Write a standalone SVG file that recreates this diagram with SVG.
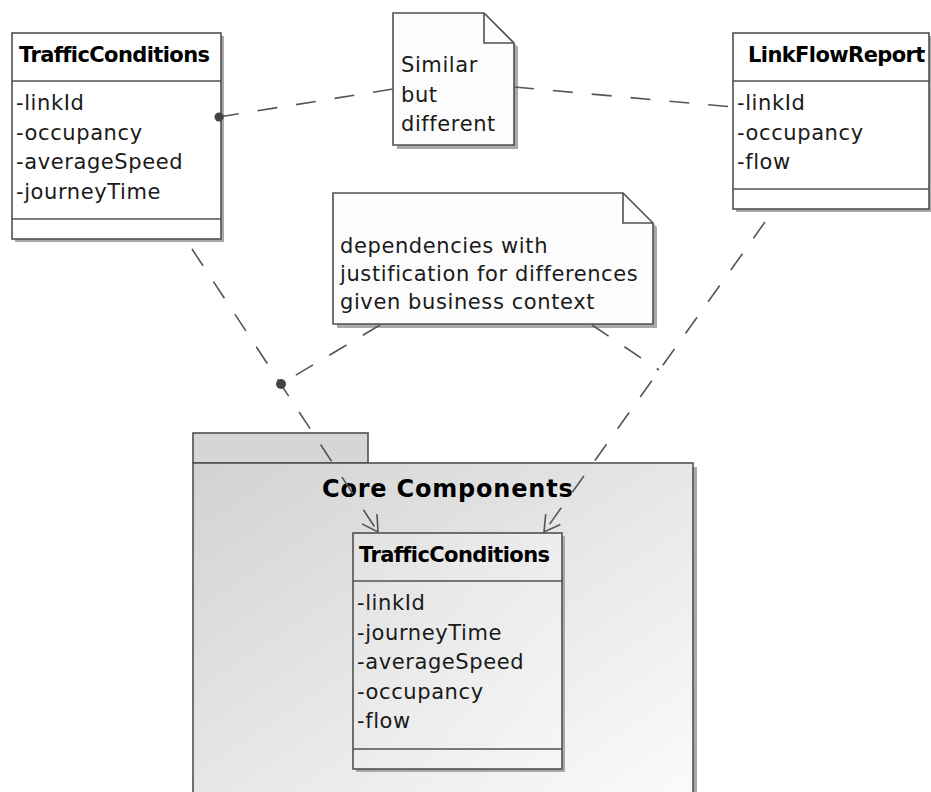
<svg xmlns="http://www.w3.org/2000/svg" width="931" height="792" viewBox="0 0 931 792">
  <style>
    .box { fill: #ffffff; stroke: #505050; stroke-width: 1.6; }
    .shadow { fill: #a9a9a9; }
    .sep { stroke: #505050; stroke-width: 1.6; }
    .title { font-family: "DejaVu Sans", Verdana, sans-serif; font-weight: bold; font-size: 21px; letter-spacing: -0.6px; fill: #000; }
    .attr { font-family: "DejaVu Sans", Verdana, sans-serif; font-size: 21px; letter-spacing: 0.6px; fill: #1a1a1a; }
    .pkg-title { font-family: "DejaVu Sans", Verdana, sans-serif; font-weight: bold; font-size: 24px; letter-spacing: 0.8px; fill: #000; }
    .note { fill: #fcfcfc; stroke: #505050; stroke-width: 1.6; stroke-linejoin: miter; }
    .dash { fill: none; stroke: #555; stroke-width: 1.6; stroke-dasharray: 20 19; }
    .dot { fill: #444; }
  </style>
  <defs>
    <linearGradient id="pkgFill" x1="0" y1="0" x2="1" y2="1">
      <stop offset="0" stop-color="#d2d2d2"/>
      <stop offset="1" stop-color="#fbfbfb"/>
    </linearGradient>
    <linearGradient id="classFill" x1="0" y1="0" x2="1" y2="1">
      <stop offset="0" stop-color="#e2e2e2"/>
      <stop offset="1" stop-color="#f6f6f6"/>
    </linearGradient>
    <marker id="openArrow" markerUnits="userSpaceOnUse" markerWidth="40" markerHeight="40" viewBox="-20 -20 40 40" refX="0" refY="0" orient="auto" overflow="visible">
      <path d="M-15.6,-9 L0,0 L-15.6,9" fill="none" stroke="#555" stroke-width="1.6" stroke-dasharray="none"/>
    </marker>
  </defs>

  <!-- package Core Components -->
  <g id="pkg-core-components">
    <rect x="197" y="467" width="500" height="330" class="shadow"/>
    <rect x="193" y="433" width="175" height="30" fill="#d6d6d6" stroke="#505050" stroke-width="1.6"/>
    <rect x="193" y="463" width="500" height="335" fill="url(#pkgFill)" stroke="#505050" stroke-width="1.6"/>
    <text x="322" y="497" class="pkg-title">Core Components</text>
  </g>

  <!-- class TrafficConditions (left) -->
  <g id="class-traffic-conditions">
    <rect x="15" y="36" width="209" height="206" class="shadow"/>
    <rect x="12" y="33" width="209" height="206" class="box"/>
    <line x1="12" y1="81" x2="221" y2="81" class="sep"/>
    <line x1="12" y1="219" x2="221" y2="219" class="sep"/>
    <text x="19" y="62" class="title">TrafficConditions</text>
    <text x="16" y="110" class="attr">-linkId</text>
    <text x="16" y="139.5" class="attr">-occupancy</text>
    <text x="16" y="169" class="attr">-averageSpeed</text>
    <text x="16" y="198.5" class="attr">-journeyTime</text>
  </g>

  <!-- class LinkFlowReport -->
  <g id="class-link-flow-report">
    <rect x="736" y="36" width="196" height="176" class="shadow"/>
    <rect x="733" y="33" width="196" height="176" class="box"/>
    <line x1="733" y1="81" x2="929" y2="81" class="sep"/>
    <line x1="733" y1="189" x2="929" y2="189" class="sep"/>
    <text x="748" y="62" class="title">LinkFlowReport</text>
    <text x="737" y="110" class="attr">-linkId</text>
    <text x="737" y="139.5" class="attr">-occupancy</text>
    <text x="737" y="169" class="attr">-flow</text>
  </g>

  <!-- note: Similar but different -->
  <g id="note-similar">
    <polygon points="397,17 488,17 518,47 518,149 397,149" class="shadow"/>
    <polygon points="393,13 484,13 514,43 514,145 393,145" class="note"/>
    <polyline points="484,13 484,43 514,43" fill="none" stroke="#505050" stroke-width="1.6"/>
    <text x="401" y="72" class="attr">Similar</text>
    <text x="401" y="101.5" class="attr">but</text>
    <text x="401" y="131" class="attr">different</text>
  </g>

  <!-- note: dependencies with justification -->
  <g id="note-justification">
    <polygon points="337,197 627,197 657,227 657,328 337,328" class="shadow"/>
    <polygon points="333,193 623,193 653,223 653,324 333,324" class="note"/>
    <polyline points="623,193 623,223 653,223" fill="none" stroke="#505050" stroke-width="1.6"/>
    <text x="340" y="253" class="attr">dependencies with</text>
    <text x="340" y="281" class="attr">justification for differences</text>
    <text x="340" y="309" class="attr">given business context</text>
  </g>

  <!-- class TrafficConditions inside Core Components -->
  <g id="class-core-traffic-conditions">
    <rect x="356" y="536" width="209" height="236" class="shadow"/>
    <rect x="353" y="533" width="209" height="236" fill="url(#classFill)" stroke="#505050" stroke-width="1.6"/>
    <line x1="353" y1="581" x2="562" y2="581" class="sep"/>
    <line x1="353" y1="749" x2="562" y2="749" class="sep"/>
    <text x="359" y="562" class="title">TrafficConditions</text>
    <text x="357" y="610" class="attr">-linkId</text>
    <text x="357" y="639.5" class="attr">-journeyTime</text>
    <text x="357" y="669" class="attr">-averageSpeed</text>
    <text x="357" y="698.5" class="attr">-occupancy</text>
    <text x="357" y="728" class="attr">-flow</text>
  </g>

  <!-- connectors -->
  <g id="connectors">
    <!-- note anchors for "Similar but different" -->
    <line x1="219" y1="117" x2="393" y2="89" class="dash"/>
    <line x1="514" y1="87" x2="733" y2="107" class="dash"/>
    <circle cx="219" cy="117" r="4.5" class="dot"/>
    <!-- dependencies into the core class -->
    <line x1="192" y1="249" x2="378" y2="532" class="dash" marker-end="url(#openArrow)"/>
    <line x1="765" y1="222" x2="544" y2="532" class="dash" marker-end="url(#openArrow)"/>
    <!-- note anchors for the justification note -->
    <line x1="380" y1="325" x2="281" y2="384" class="dash"/>
    <circle cx="281" cy="384" r="5" class="dot"/>
    <line x1="592" y1="325" x2="659" y2="370" class="dash"/>
  </g>
</svg>
